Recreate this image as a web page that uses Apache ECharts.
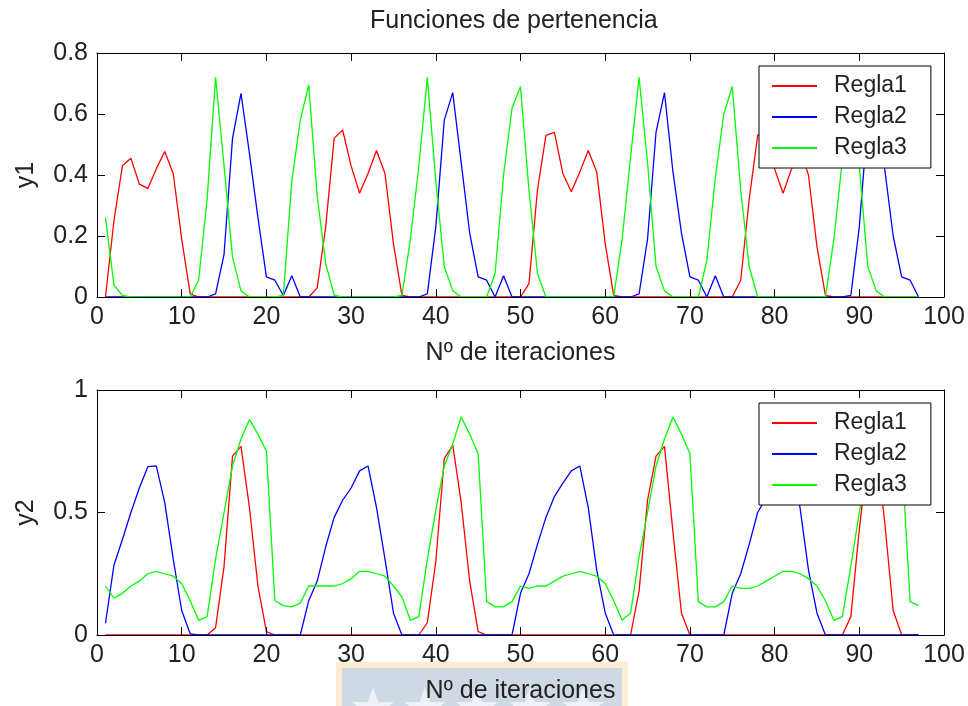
<!DOCTYPE html>
<html>
<head>
<meta charset="utf-8">
<title>Funciones de pertenencia</title>
<script src="https://cdn.jsdelivr.net/npm/echarts@6/dist/echarts.min.js"></script>
<style>
  html, body { margin: 0; padding: 0; background: #fff; }
  #chart { width: 968px; height: 706px; }
</style>
</head>
<body>
<div id="chart"></div>
<script>
// Membership degrees of the three rules, one value per iteration (1..97)
const y1Regla1 = [
  0, 0.25, 0.43, 0.455, 0.37, 0.356, 0.42, 0.477, 0.405, 0.19, 0.01,
  0, 0, 0, 0, 0, 0, 0, 0, 0, 0, 0, 0, 0, 0,
  0.03, 0.23, 0.52, 0.548, 0.43, 0.34, 0.405, 0.48, 0.405, 0.175, 0.005,
  0, 0, 0, 0, 0, 0, 0, 0, 0, 0, 0, 0, 0, 0,
  0.044, 0.35, 0.53, 0.54, 0.405, 0.345, 0.41, 0.48, 0.41, 0.175, 0.005,
  0, 0, 0, 0, 0, 0, 0, 0, 0, 0, 0, 0, 0, 0,
  0.055, 0.32, 0.53, 0.55, 0.42, 0.34, 0.42, 0.48, 0.4, 0.165, 0.005,
  0, 0, 0, 0, 0, 0, 0, 0, 0, 0, 0
];
const y1Regla2 = [
  0, 0, 0, 0, 0, 0, 0, 0, 0, 0, 0, 0, 0,
  0.01, 0.14, 0.52, 0.668, 0.47, 0.26, 0.066, 0.055, 0.005, 0.07, 0,
  0, 0, 0, 0, 0, 0, 0, 0, 0, 0, 0, 0, 0, 0,
  0.01, 0.23, 0.58, 0.67, 0.44, 0.21, 0.066, 0.055, 0, 0.07, 0,
  0, 0, 0, 0, 0, 0, 0, 0, 0, 0, 0, 0, 0, 0,
  0.01, 0.19, 0.54, 0.67, 0.41, 0.21, 0.066, 0.055, 0, 0.07, 0,
  0, 0, 0, 0, 0, 0, 0, 0, 0, 0, 0, 0, 0, 0,
  0.005, 0.23, 0.58, 0.67, 0.42, 0.2, 0.066, 0.055, 0
];
const y1Regla3 = [
  0.26, 0.04, 0.005, 0, 0, 0, 0, 0, 0, 0, 0,
  0.055, 0.32, 0.72, 0.43, 0.13, 0.02, 0, 0, 0, 0,
  0.005, 0.38, 0.58, 0.695, 0.33, 0.11, 0.005,
  0, 0, 0, 0, 0, 0, 0,
  0.005, 0.19, 0.43, 0.72, 0.38, 0.1, 0.02, 0, 0, 0, 0,
  0.077, 0.4, 0.62, 0.69, 0.35, 0.077, 0,
  0, 0, 0, 0, 0, 0, 0, 0,
  0.19, 0.46, 0.72, 0.44, 0.1, 0.02, 0, 0, 0, 0,
  0.12, 0.39, 0.6, 0.69, 0.35, 0.1, 0,
  0, 0, 0, 0, 0, 0, 0, 0,
  0.19, 0.45, 0.72, 0.43, 0.1, 0.02, 0, 0, 0, 0, 0
];

const y2Regla1 = [
  0, 0, 0, 0, 0, 0, 0, 0, 0, 0, 0, 0, 0,
  0.03, 0.28, 0.73, 0.77, 0.52, 0.2, 0.014,
  0, 0, 0, 0, 0, 0, 0, 0, 0, 0, 0, 0, 0, 0, 0, 0, 0, 0,
  0.05, 0.3, 0.72, 0.775, 0.54, 0.22, 0.014,
  0, 0, 0, 0, 0, 0, 0, 0, 0, 0, 0, 0, 0, 0, 0, 0, 0, 0,
  0.18, 0.55, 0.73, 0.77, 0.42, 0.09, 0,
  0, 0, 0, 0, 0, 0, 0, 0, 0, 0, 0, 0, 0, 0, 0, 0, 0, 0,
  0.075, 0.43, 0.73, 0.77, 0.46, 0.1, 0, 0, 0
];
const y2Regla2 = [
  0.048, 0.285, 0.39, 0.5, 0.6, 0.687, 0.69, 0.54, 0.31, 0.1, 0.005,
  0, 0, 0, 0, 0, 0, 0, 0, 0, 0, 0, 0, 0,
  0.14, 0.22, 0.36, 0.48, 0.55, 0.6, 0.67, 0.69, 0.52, 0.31, 0.09, 0,
  0, 0, 0, 0, 0, 0, 0, 0, 0, 0, 0, 0, 0,
  0.17, 0.25, 0.37, 0.48, 0.565, 0.62, 0.67, 0.69, 0.52, 0.265, 0.09, 0,
  0, 0, 0, 0, 0, 0, 0, 0, 0, 0, 0, 0, 0,
  0.17, 0.25, 0.37, 0.5, 0.56, 0.62, 0.67, 0.69, 0.52, 0.265, 0.09, 0,
  0, 0, 0, 0, 0, 0, 0, 0, 0, 0, 0
];
const y2Regla3 = [
  0.2, 0.15, 0.17, 0.2, 0.22, 0.25, 0.26, 0.25, 0.24, 0.21, 0.14, 0.06, 0.075,
  0.31, 0.5, 0.69, 0.8, 0.88, 0.82, 0.75,
  0.14, 0.12, 0.115, 0.13, 0.2, 0.2, 0.2, 0.2, 0.21, 0.23, 0.26, 0.26, 0.25, 0.24, 0.2, 0.156, 0.06, 0.075,
  0.31, 0.51, 0.69, 0.78, 0.89, 0.82, 0.74,
  0.136, 0.115, 0.115, 0.136, 0.2, 0.19, 0.2, 0.2, 0.22, 0.24, 0.25, 0.26, 0.25, 0.24, 0.21, 0.14, 0.06, 0.09,
  0.32, 0.5, 0.69, 0.8, 0.89, 0.82, 0.74,
  0.136, 0.115, 0.115, 0.136, 0.2, 0.19, 0.19, 0.2, 0.22, 0.24, 0.26, 0.26, 0.25, 0.23, 0.2, 0.14, 0.06, 0.075,
  0.28, 0.5, 0.69, 0.8, 0.89, 0.82, 0.74, 0.136, 0.12
];

const ruleNames = ['Regla1', 'Regla2', 'Regla3'];
const ruleColors = ['#ff0000', '#0000ff', '#00ff00'];
const xTicks = { min: 0, max: 100, interval: 10 };
const y1Ticks = { min: 0, max: 0.8, interval: 0.2 };
const y2Ticks = { min: 0, max: 1, interval: 0.5 };

const FONT = 'Liberation Sans, Arial, sans-serif';
const TEXT = '#222';

function pairs(values) {
  return values.map((v, i) => [i + 1, v]);
}

function frameAxis(gridIndex, ticks, position, extra) {
  return Object.assign({
    gridIndex: gridIndex,
    type: 'value',
    min: ticks.min,
    max: ticks.max,
    interval: ticks.interval,
    position: position,
    z: 5,
    axisLine: { show: true, onZero: false, lineStyle: { color: '#000', width: 1 } },
    axisTick: { show: true, inside: true, length: 8, lineStyle: { color: '#000', width: 1 } },
    axisLabel: { show: false },
    splitLine: { show: false }
  }, extra || {});
}

const labelStyle = { show: true, fontSize: 25, color: TEXT, fontFamily: FONT };
const nameStyle = { fontSize: 25, color: TEXT, fontFamily: FONT };

function xMain(gridIndex) {
  return frameAxis(gridIndex, xTicks, 'bottom', {
    axisLabel: Object.assign({ margin: 8 }, labelStyle),
    name: 'Nº de iteraciones',
    nameLocation: 'middle',
    nameGap: 44,
    nameTextStyle: nameStyle
  });
}
function yMain(gridIndex, ticks, name) {
  return frameAxis(gridIndex, ticks, 'left', {
    axisLabel: Object.assign({ margin: 9 }, labelStyle),
    name: name,
    nameLocation: 'middle',
    nameGap: 58,
    nameRotate: 90,
    nameTextStyle: nameStyle
  });
}

function legendAt(top) {
  return {
    data: ruleNames,
    orient: 'vertical',
    left: 759,
    top: top,
    icon: 'rect',
    itemWidth: 45,
    itemHeight: 2,
    itemGap: 7,
    padding: [8, 24, 8, 13],
    backgroundColor: '#fff',
    borderColor: '#000',
    borderWidth: 1,
    borderRadius: 0,
    textStyle: { fontSize: 23, lineHeight: 24, color: TEXT, fontFamily: FONT, padding: [0, 0, 0, 12] }
  };
}

function lineSeries(name, color, values, axisIndex) {
  return {
    name: name,
    type: 'line',
    xAxisIndex: axisIndex,
    yAxisIndex: axisIndex,
    data: pairs(values),
    showSymbol: false,
    symbol: 'none',
    lineStyle: { color: color, width: 1.3 },
    itemStyle: { color: color },
    emphasis: { disabled: true }
  };
}

// Faint badge behind the lower axis label
function starPoints(cx, cy, r) {
  const pts = [];
  for (let k = 0; k < 10; k++) {
    const rad = k % 2 === 0 ? r : r * 0.4;
    const a = -Math.PI / 2 + k * Math.PI / 5;
    pts.push([cx + rad * Math.cos(a), cy + rad * Math.sin(a)]);
  }
  return pts;
}
const badgeStars = [373, 425, 477, 530, 583].map(cx => ({
  type: 'polygon',
  z: 1,
  shape: { points: starPoints(cx, 709, 22) },
  style: { fill: '#eef2f6' }
}));

const chart = echarts.init(document.getElementById('chart'), null, { renderer: 'canvas' });
chart.setOption({
  animation: false,
  backgroundColor: '#fff',
  title: {
    text: 'Funciones de pertenencia',
    left: 370,
    top: 9,
    padding: 0,
    textStyle: { fontSize: 25, fontWeight: 'normal', color: TEXT, fontFamily: FONT }
  },
  graphic: [
    { type: 'rect', z: 1, shape: { x: 336, y: 662, width: 292, height: 50 }, style: { fill: '#fcecd2' } },
    { type: 'rect', z: 1, shape: { x: 342, y: 668, width: 280, height: 44 }, style: { fill: '#cfd9e4' } }
  ].concat(badgeStars),
  legend: [legendAt(66), legendAt(403)],
  grid: [
    { left: 97, top: 53, width: 847, height: 244 },
    { left: 97, top: 390, width: 847, height: 245 }
  ],
  xAxis: [
    xMain(0),
    frameAxis(0, xTicks, 'top'),
    xMain(1),
    frameAxis(1, xTicks, 'top')
  ],
  yAxis: [
    yMain(0, y1Ticks, 'y1'),
    frameAxis(0, y1Ticks, 'right'),
    yMain(1, y2Ticks, 'y2'),
    frameAxis(1, y2Ticks, 'right')
  ],
  series: [
    lineSeries(ruleNames[0], ruleColors[0], y1Regla1, 0),
    lineSeries(ruleNames[1], ruleColors[1], y1Regla2, 0),
    lineSeries(ruleNames[2], ruleColors[2], y1Regla3, 0),
    lineSeries(ruleNames[0], ruleColors[0], y2Regla1, 2),
    lineSeries(ruleNames[1], ruleColors[1], y2Regla2, 2),
    lineSeries(ruleNames[2], ruleColors[2], y2Regla3, 2)
  ]
});
</script>
</body>
</html>
